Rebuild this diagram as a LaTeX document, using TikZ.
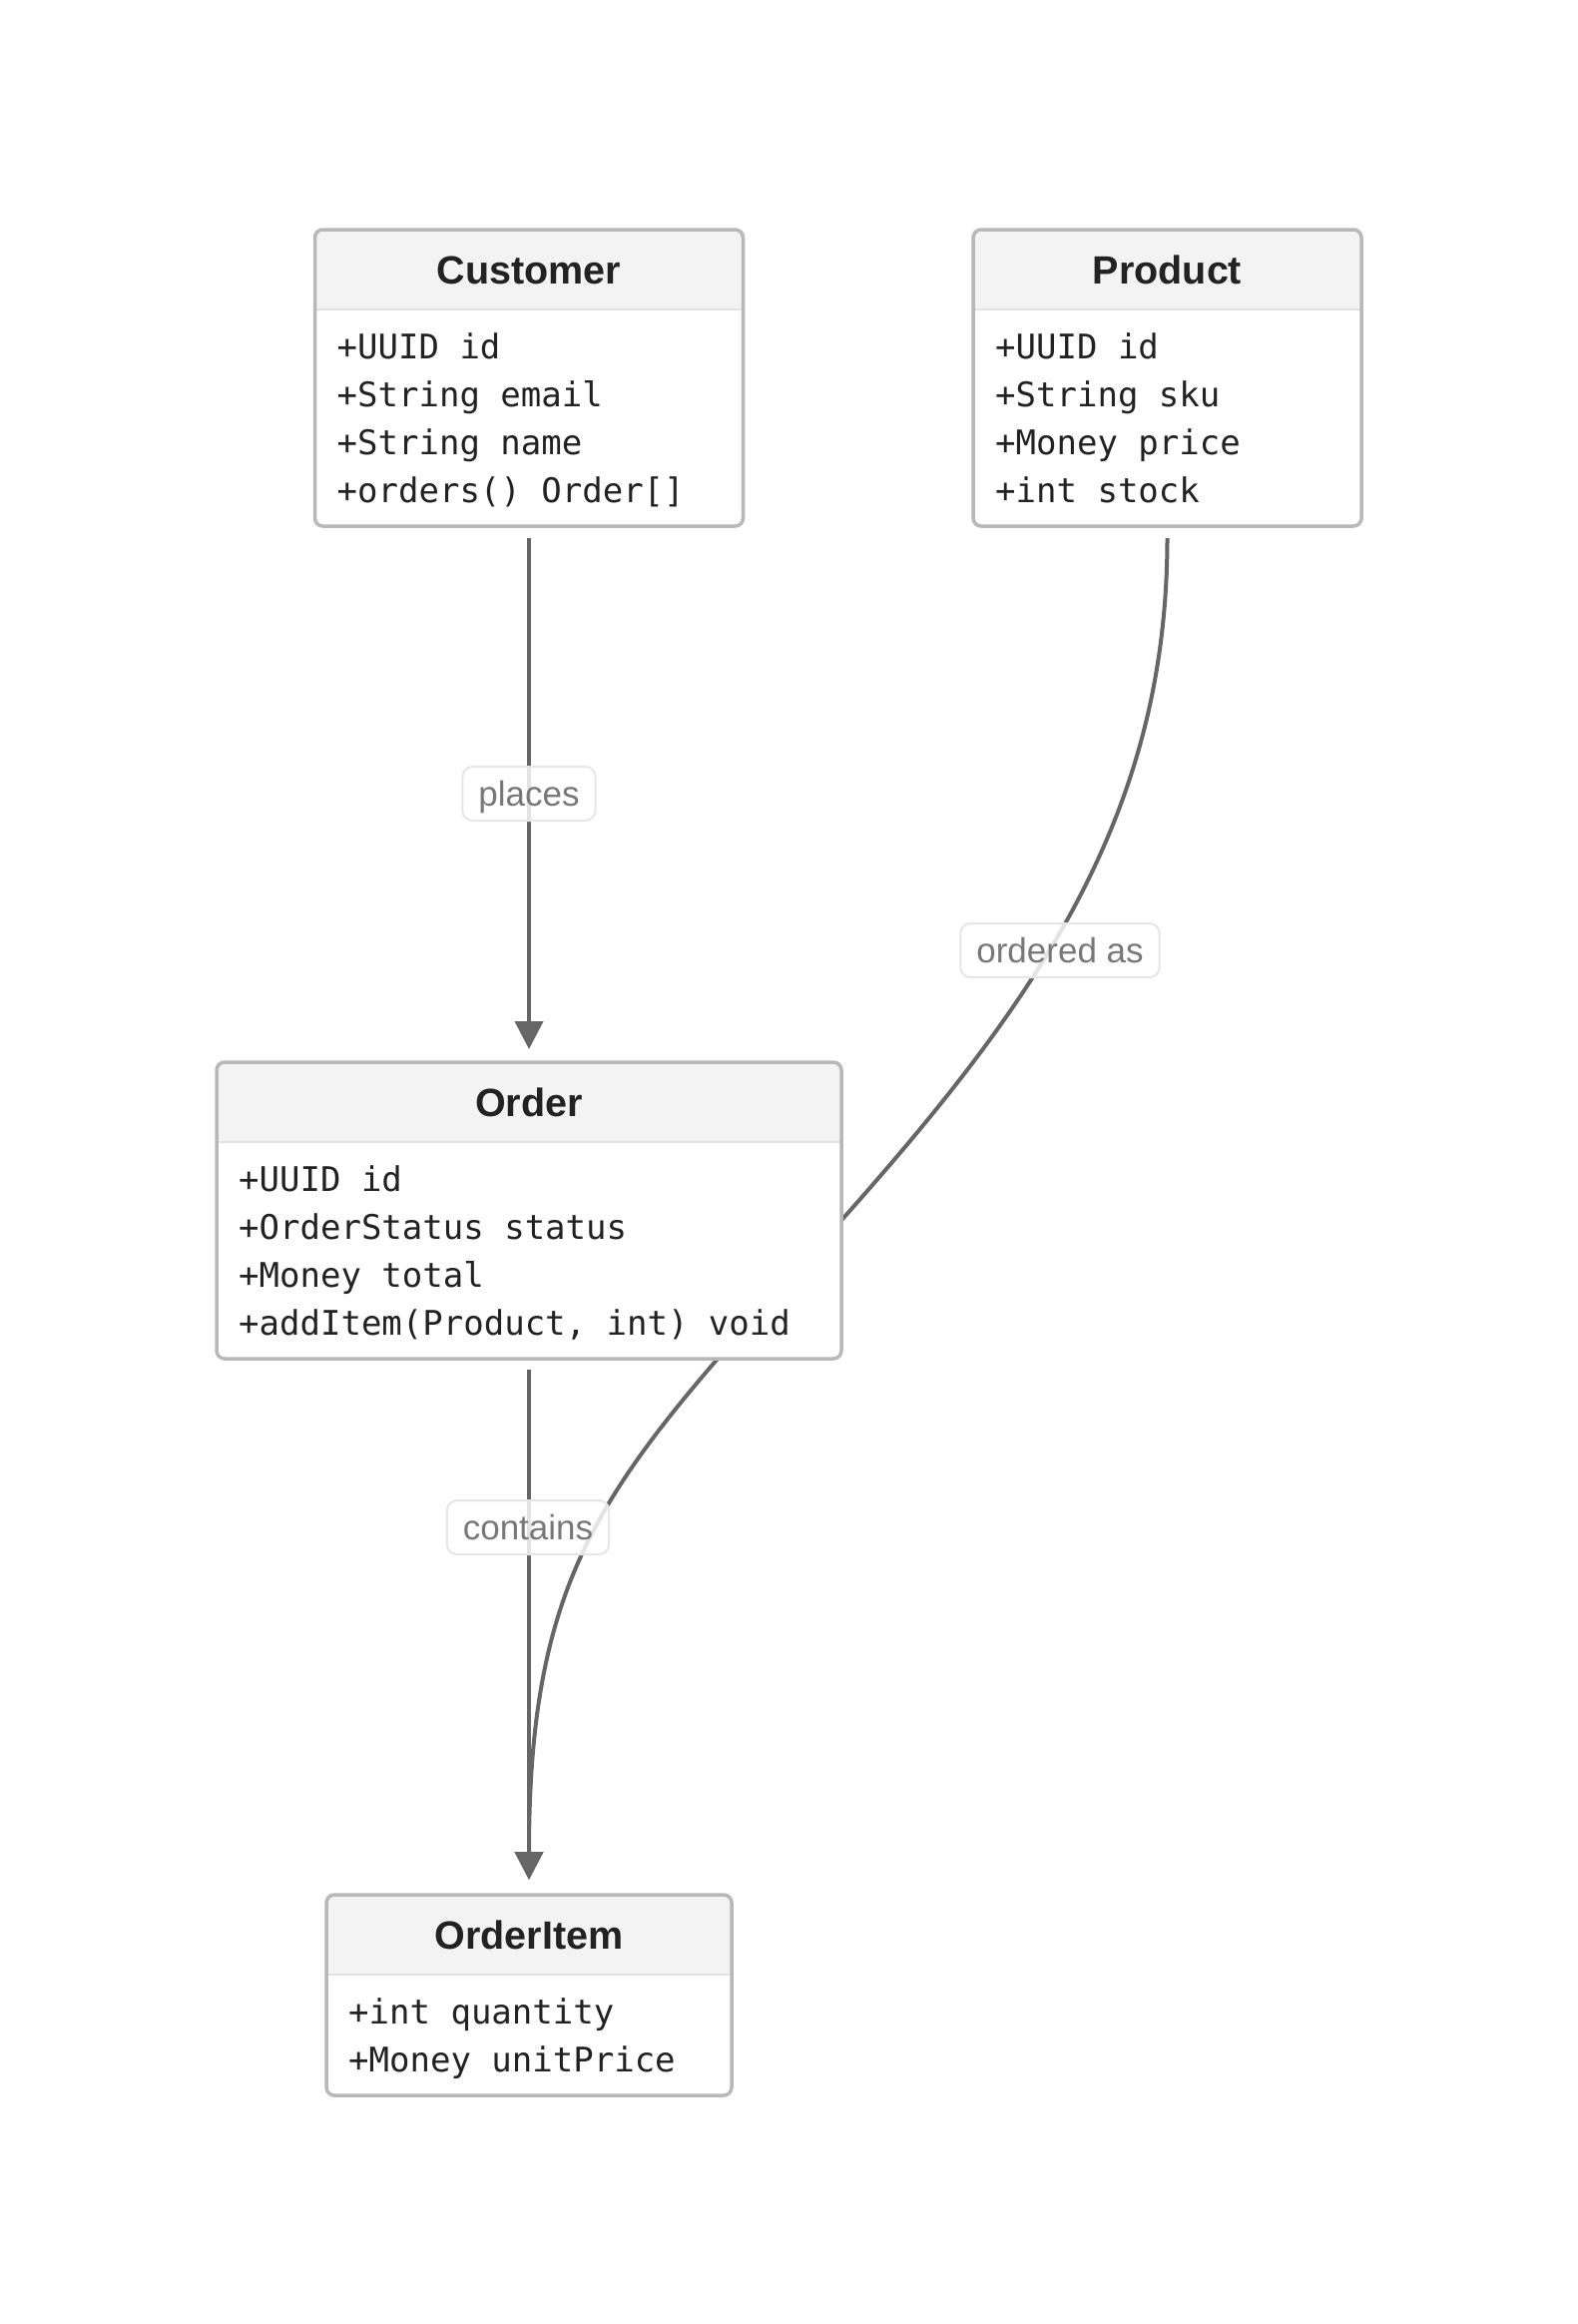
\documentclass[tikz,border=0pt]{standalone}
\usepackage{fontspec}
\setmainfont{Liberation Sans}
\newfontfamily\monof{DejaVu Sans Mono}
\usetikzlibrary{arrows.meta}
\definecolor{boxc}{HTML}{B8B8B8}
\definecolor{hdrc}{HTML}{F3F3F3}
\definecolor{sepc}{HTML}{E2E2E2}
\definecolor{edgec}{HTML}{666666}
\definecolor{inkc}{HTML}{222222}
\definecolor{lblc}{HTML}{787878}
\definecolor{lblb}{HTML}{E6E6E6}
\pgfdeclarelayer{bg}
\pgfsetlayers{bg,main}
\tikzset{
  classbody/.style={fill=white, inner sep=0pt, outer sep=0pt, anchor=north},
  hdrfill/.style={fill=hdrc},
  sepline/.style={draw=sepc, line width=2.5pt},
  classborder/.style={draw=boxc, line width=3.5pt, rounded corners=8pt},
  titletext/.style={anchor=base, inner sep=0pt, text=inkc, font=\fontsize{39.5}{46}\selectfont\bfseries},
  rowtext/.style={anchor=base west, inner sep=0pt, text=inkc, font=\fontsize{34}{40}\monof},
  edge/.style={draw=edgec, line width=4pt, -{Triangle[width=28pt,length=28pt]}},
  lbl/.style={fill=white, fill opacity=0.82, text opacity=1, draw=lblb, line width=2pt,
    rounded corners=10pt, text=lblc, font=\fontsize{35}{42}\selectfont,
    text height=25.5pt, text depth=0pt,
    minimum height=54pt, inner xsep=16pt, inner ysep=0pt},
}
\newcommand\drawclass[7]{%
  \node[classbody, minimum width=#4pt, minimum height=#5pt] (#1) at (#2,#3) {};
  \begin{scope}
    \clip[rounded corners=8pt] (#1.north west) rectangle (#1.south east);
    \fill[hdrfill] (#1.north west) rectangle ([yshift=-80pt]#1.north east);
  \end{scope}
  \draw[sepline] ([yshift=-80pt]#1.north west) -- ([yshift=-80pt]#1.north east);
  \draw[classborder] (#1.north west) rectangle (#1.south east);
  \node[titletext] (#1-title) at ([yshift=-54.5pt]#1.north) {#6};
  \foreach \r [count=\i] in {#7} {
    \node[rowtext] (#1-r\i) at ([xshift=22pt, yshift={-129pt-(\i-1)*48pt}]#1.north west) {\r};
  }
}
\begin{document}
\begin{tikzpicture}[x=1pt, y=-1pt]
\useasboundingbox (0,0) rectangle (1581,2328);
\drawclass{cust}{530}{230}{429}{297}{Customer}{+UUID id, +String email, +String name, {+orders() Order[]}}
\drawclass{prod}{1169.5}{230}{389}{297}{Product}{+UUID id, +String sku, +Money price, +int stock}
\drawclass{order}{530}{1064}{626}{297}{Order}{+UUID id, +OrderStatus status, +Money total, {+addItem(Product, int) void}}
\drawclass{item}{530}{1898}{406}{201}{OrderItem}{+int quantity, +Money unitPrice}
\coordinate (bend) at (782,1290);
\begin{pgfonlayer}{bg}
  \draw[edge] ([yshift=-12pt]prod.south) .. controls (1169.5,845) and (1010,1040) .. (bend)
     .. controls (602,1490) and (530,1582) .. ([yshift=15pt]item.north);
  \draw[edge] ([yshift=-12pt]cust.south) -- ([yshift=13pt]order.north);
  \draw[edge] ([yshift=-11pt]order.south) -- ([yshift=15pt]item.north);
\end{pgfonlayer}
\node[lbl] (lplaces) at (530,795) {places};
\node[lbl] (lordered) at (1062,952) {ordered as};
\node[lbl] (lcontains) at (529,1530) {contains};
\end{tikzpicture}
\end{document}
